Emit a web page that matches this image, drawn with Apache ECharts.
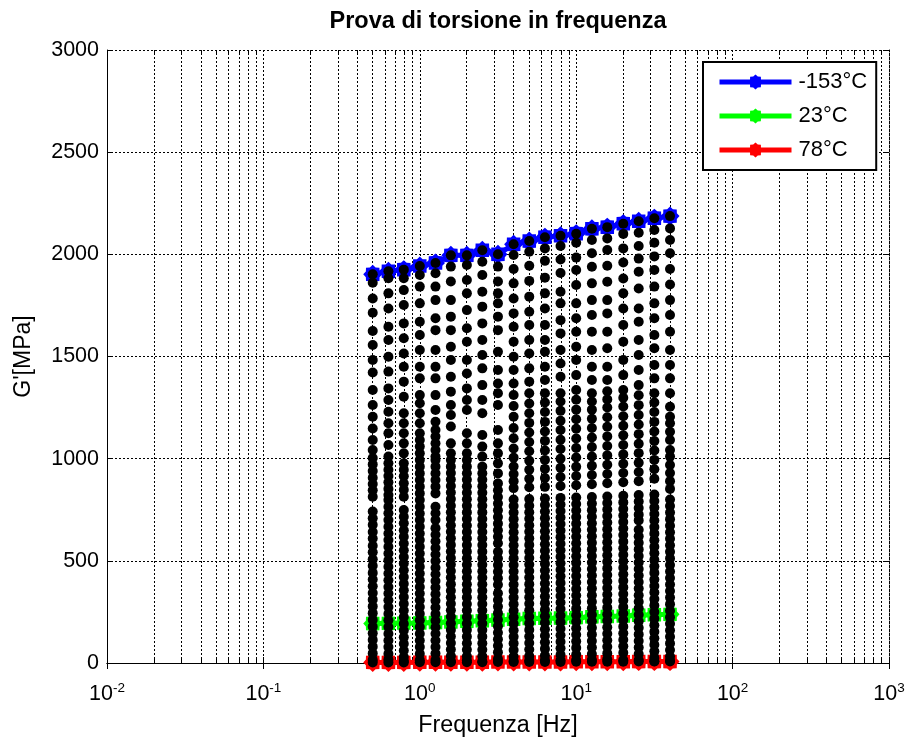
<!DOCTYPE html>
<html>
<head>
<meta charset="utf-8">
<script src="https://cdn.jsdelivr.net/npm/echarts@6/dist/echarts.min.js"></script>
<style>
  html, body { margin: 0; padding: 0; background: #fff; }
  #chart { width: 906px; height: 737px; }
</style>
</head>
<body>
<div id="chart"></div>
<script>
// Frequency sweep (Hz) and storage modulus G' (MPa) per test temperature
const freqHz = [0.5, 0.63, 0.79, 1.0, 1.26, 1.58, 2.0, 2.51, 3.16, 3.98, 5.01, 6.31, 7.94, 10.0, 12.6, 15.8, 20.0, 25.1, 31.6, 39.8];
const gMinus153 = [1902, 1917, 1925, 1943, 1958, 1995, 1995, 2020, 2000, 2049, 2065, 2084, 2091, 2101, 2125, 2133, 2150, 2162, 2177, 2187];
const gPlus23 = [193, 194, 195, 196, 198, 201, 204, 207, 210, 214, 218, 219, 220, 222, 226, 228, 230, 234, 236, 238];
const gPlus78 = [3, 3, 3, 4, 4, 4, 4, 4, 5, 5, 5, 5, 5, 6, 6, 6, 6, 7, 7, 7];

// G' of the intermediate temperatures, one list per frequency (same order as freqHz)
const gIntermediate = [
  [1861,1784,1714,1625,1556,1483,1422,1336,1263,1205,1148,1091,1042,1003,972,940,907,876,845,814,741,708,676,641,609,574,542,508,476,441,409,376,343,310,277,244,211,178,146,113,80,47,16],
  [1883,1809,1735,1646,1581,1499,1426,1344,1287,1230,1173,1124,1067,1010,978,946,915,884,852,822,798,765,733,700,667,634,602,569,536,503,471,438,405,372,340,307,274,241,209,176,143,110,78,45,17],
  [1883,1825,1752,1662,1589,1515,1450,1377,1303,1222,1173,1124,1075,1026,977,946,914,880,848,814,749,716,684,650,618,585,552,519,487,454,421,388,356,323,290,257,225,192,159,126,94,61,29,10],
  [1899,1842,1760,1670,1605,1532,1450,1393,1311,1271,1222,1173,1124,1091,1059,1026,993,961,928,896,863,830,798,765,732,700,667,634,602,569,536,503,471,438,405,372,340,307,274,241,209,176,143,110,78,45,14],
  [1907,1842,1776,1687,1629,1532,1450,1393,1311,1238,1181,1140,1108,1075,1042,1010,993,961,928,896,863,830,765,733,700,660,628,596,563,531,499,466,434,401,369,337,305,272,240,207,175,143,110,78,46,15],
  [1940,1867,1776,1695,1629,1548,1483,1401,1328,1263,1214,1157,1075,1026,993,961,930,898,866,834,802,770,738,706,674,642,610,578,546,514,482,450,418,386,354,322,290,258,226,194,162,130,98,66,34,10],
  [1948,1874,1809,1727,1638,1572,1483,1417,1344,1287,1238,1124,1075,1026,993,961,929,897,865,833,801,769,737,705,673,641,609,577,545,513,481,449,417,385,353,321,289,257,225,193,161,129,97,65,33,12],
  [1964,1899,1817,1744,1662,1581,1507,1442,1360,1287,1222,1116,1059,1010,961,929,897,865,833,801,769,737,705,673,641,609,577,545,513,481,449,417,385,353,321,289,257,225,193,161,129,97,65,33,9],
  [1940,1867,1809,1760,1695,1629,1523,1434,1368,1320,1263,1140,1075,1026,977,928,879,845,812,780,747,714,682,650,618,586,544,511,479,447,415,383,341,308,276,244,212,180,148,116,84,52,20],
  [1997,1928,1858,1784,1711,1646,1572,1499,1434,1368,1312,1258,1205,1150,1100,1050,1005,962,925,890,856,800,768,736,704,672,640,608,576,544,512,480,448,416,384,352,320,288,256,224,192,160,128,96,64,32,10],
  [2013,1944,1870,1793,1719,1654,1581,1515,1442,1377,1320,1270,1222,1175,1128,1082,1036,990,946,902,860,802,770,738,706,674,642,610,578,546,514,482,450,418,386,354,322,290,258,226,194,162,130,98,66,34,12],
  [2029,1968,1886,1809,1735,1654,1581,1523,1450,1385,1320,1275,1228,1180,1133,1087,1040,994,950,905,862,805,773,741,709,677,645,613,581,549,517,485,453,421,389,357,325,293,261,229,197,165,133,101,69,37,14],
  [2041,1975,1909,1817,1760,1678,1613,1532,1466,1401,1320,1280,1234,1186,1140,1093,1047,1000,955,910,866,808,776,744,712,680,648,616,584,552,520,488,456,424,392,360,328,296,264,232,200,168,136,104,72,40,13],
  [2057,1984,1923,1850,1760,1687,1621,1548,1483,1409,1336,1288,1240,1193,1146,1099,1052,1006,960,915,870,810,778,746,714,682,650,618,586,554,522,490,458,426,394,362,330,298,266,234,202,170,138,106,74,42,15],
  [2070,2005,1939,1858,1776,1703,1621,1532,1450,1385,1320,1280,1240,1195,1150,1104,1057,1011,965,920,875,812,780,748,716,684,652,620,588,556,524,492,460,428,396,364,332,300,268,236,204,172,140,108,76,44,16],
  [2078,2021,1944,1866,1776,1711,1621,1540,1450,1385,1330,1290,1250,1203,1156,1109,1062,1016,970,925,880,815,783,751,719,687,655,623,591,559,527,495,463,431,399,367,335,303,271,239,207,175,143,111,79,47,18],
  [2100,2029,1960,1882,1809,1735,1654,1572,1483,1409,1336,1298,1255,1208,1161,1114,1067,1021,975,930,885,818,786,754,722,690,658,626,594,562,530,498,466,434,402,370,338,306,274,242,210,178,146,114,82,50,14],
  [2106,2041,1979,1915,1833,1735,1670,1581,1507,1434,1360,1310,1262,1214,1167,1120,1073,1027,980,935,890,822,790,758,726,698,652,620,588,556,524,492,460,428,396,364,332,300,268,236,204,172,140,108,76,44,15],
  [2119,2057,1990,1923,1842,1760,1687,1605,1540,1458,1393,1320,1275,1228,1180,1133,1086,1040,994,948,902,825,793,761,729,697,665,633,601,569,537,505,473,441,409,377,345,313,281,249,217,185,153,121,89,57,25,8],
  [2127,2070,2005,1928,1852,1776,1703,1621,1532,1458,1393,1320,1254,1205,1173,1132,1091,1042,1010,969,930,890,852,800,768,736,704,672,640,608,576,544,512,480,448,416,384,352,320,288,256,224,192,160,128,96,64,32,12]
];

const seriesNames = ['-153°C', '23°C', '78°C'];
const seriesColors = ['#0000ff', '#00ff00', '#ff0000'];

// Axis ranges: decades of the log frequency axis and linear G' axis
const xMin = 0.01, xMax = 1000;
const yMin = 0, yMax = 3000, yStep = 500;
const decades = [0.01, 0.1, 1, 10, 100];
const minorMultipliers = [2, 3, 4, 5, 6, 7, 8, 9];
const minorTicks = [];
decades.forEach(d => minorMultipliers.forEach(m => minorTicks.push(+(d * m).toPrecision(3))));

const FONT = "'Liberation Sans', Arial, Helvetica, sans-serif";

// Asterisk-like blob marker used on the three highlighted curves
function spikyMarker(points, inner) {
  let d = '';
  for (let k = 0; k < 2 * points; k++) {
    const r = k % 2 ? inner : 1;
    const a = Math.PI * k / points;
    const x = 50 + 50 * r * Math.sin(a);
    const y = 50 - 50 * r * Math.cos(a);
    d += (k ? 'L' : 'M') + x.toFixed(2) + ',' + y.toFixed(2);
  }
  return 'path://' + d + 'Z';
}
const marker = spikyMarker(8, 0.78);

function pairs(ys) { return freqHz.map((f, i) => [f, ys[i]]); }

// all measured points are also shown as black dots
const blackDots = [];
freqHz.forEach((f, i) => {
  blackDots.push([f, gMinus153[i]]);
  gIntermediate[i].forEach(v => blackDots.push([f, v]));
  blackDots.push([f, gPlus78[i]]);
});

const gridDash = [2, 2];

const chart = echarts.init(document.getElementById('chart'));
chart.setOption({
  animation: false,
  backgroundColor: '#fff',
  title: {
    text: 'Prova di torsione in frequenza',
    left: 498, top: 10, textAlign: 'center', padding: 0,
    textStyle: { fontSize: 23.5, fontWeight: 'bold', color: '#000', fontFamily: FONT }
  },
  grid: { left: 107, right: 17, top: 50, bottom: 74, outerBoundsMode: 'none', containLabel: false },
  legend: {
    data: seriesNames,
    orient: 'vertical', left: 703, top: 62,
    padding: [9, 9, 9, 14],
    itemWidth: 72, itemHeight: 19, itemGap: 12,
    backgroundColor: '#fff', borderColor: '#000', borderWidth: 2,
    selectedMode: false,
    lineStyle: { width: 5 },
    textStyle: { fontSize: 22, color: '#000', fontFamily: FONT, padding: [0, 0, 0, 2] }
  },
  xAxis: [
    {
      type: 'log', logBase: 10, min: xMin, max: xMax, position: 'bottom',
      name: 'Frequenza [Hz]', nameLocation: 'middle', nameGap: 51,
      nameTextStyle: { fontSize: 23.3, color: '#000', fontFamily: FONT },
      axisLine: { lineStyle: { color: '#000', width: 1 } },
      axisTick: { inside: true, length: 6, lineStyle: { color: '#000' } },
      axisLabel: {
        margin: 18,
        formatter: v => '{b|10}{e|' + Math.round(Math.log10(v)) + '}',
        rich: {
          b: { fontSize: 21.5, color: '#000', fontFamily: FONT, lineHeight: 24, padding: [5, 0, 0, 0], verticalAlign: 'bottom' },
          e: { fontSize: 13.5, color: '#000', fontFamily: FONT, lineHeight: 12, verticalAlign: 'top' }
        }
      },
      splitLine: { show: true, lineStyle: { color: '#000', width: 1, type: gridDash } }
    },
    {
      type: 'log', logBase: 10, min: xMin, max: xMax, position: 'top',
      axisLine: { lineStyle: { color: '#000', width: 1, type: gridDash } },
      axisTick: { inside: true, length: 6, lineStyle: { color: '#000' } },
      axisLabel: { show: false },
      splitLine: { show: false }
    }
  ],
  yAxis: [
    {
      type: 'value', min: yMin, max: yMax, interval: yStep, position: 'left',
      name: "G'[MPa]", nameLocation: 'middle', nameGap: 72,
      nameTextStyle: { fontSize: 23, color: '#000', fontFamily: FONT },
      axisLine: { show: true, lineStyle: { color: '#000', width: 1 } },
      axisTick: { show: true, inside: true, length: 6, lineStyle: { color: '#000' } },
      axisLabel: { fontSize: 21.5, color: '#000', fontFamily: FONT, margin: 8, formatter: v => String(v) },
      splitLine: { show: true, lineStyle: { color: '#000', width: 1, type: gridDash } }
    },
    {
      type: 'value', min: yMin, max: yMax, interval: yStep, position: 'right',
      axisLine: { show: true, lineStyle: { color: '#000', width: 1, type: gridDash } },
      axisTick: { show: true, inside: true, length: 6, lineStyle: { color: '#000' } },
      axisLabel: { show: false },
      splitLine: { show: false }
    }
  ],
  series: [
    {
      // minor decade gridlines with their inner ticks on both horizontal edges
      type: 'custom', xAxisIndex: 0, yAxisIndex: 0, silent: true, z: 1,
      encode: { x: 0, y: 1 },
      data: minorTicks.map(v => [v, 0]),
      renderItem: (params, api) => {
        const x = Math.round(api.coord([api.value(0), yMin])[0] - 0.5) + 0.5;
        const yb = api.coord([api.value(0), yMin])[1];
        const yt = api.coord([api.value(0), yMax])[1];
        return {
          type: 'group',
          children: [
            { type: 'line', shape: { x1: x, y1: yb, x2: x, y2: yt }, style: { stroke: '#000', lineWidth: 1, lineDash: gridDash } },
            { type: 'line', shape: { x1: x, y1: yb, x2: x, y2: yb - 4 }, style: { stroke: '#000', lineWidth: 1 } },
            { type: 'line', shape: { x1: x, y1: yt, x2: x, y2: yt + 4 }, style: { stroke: '#000', lineWidth: 1 } }
          ]
        };
      }
    },
    ...[gMinus153, gPlus23, gPlus78].map((ys, k) => ({
      name: seriesNames[k], type: 'line', data: pairs(ys), z: 3, clip: false,
      symbol: marker, symbolSize: 19, showAllSymbol: true,
      lineStyle: { color: seriesColors[k], width: 5, opacity: 1 },
      itemStyle: { color: seriesColors[k], borderWidth: 0, opacity: 1 },
      emphasis: { disabled: true }
    })),
    {
      name: 'G\' intermedie', type: 'scatter', data: blackDots, z: 5, clip: false, silent: true,
      symbol: 'circle', symbolSize: 10,
      itemStyle: { color: '#000', opacity: 1 },
      emphasis: { disabled: true }
    }
  ]
});
</script>
</body>
</html>
